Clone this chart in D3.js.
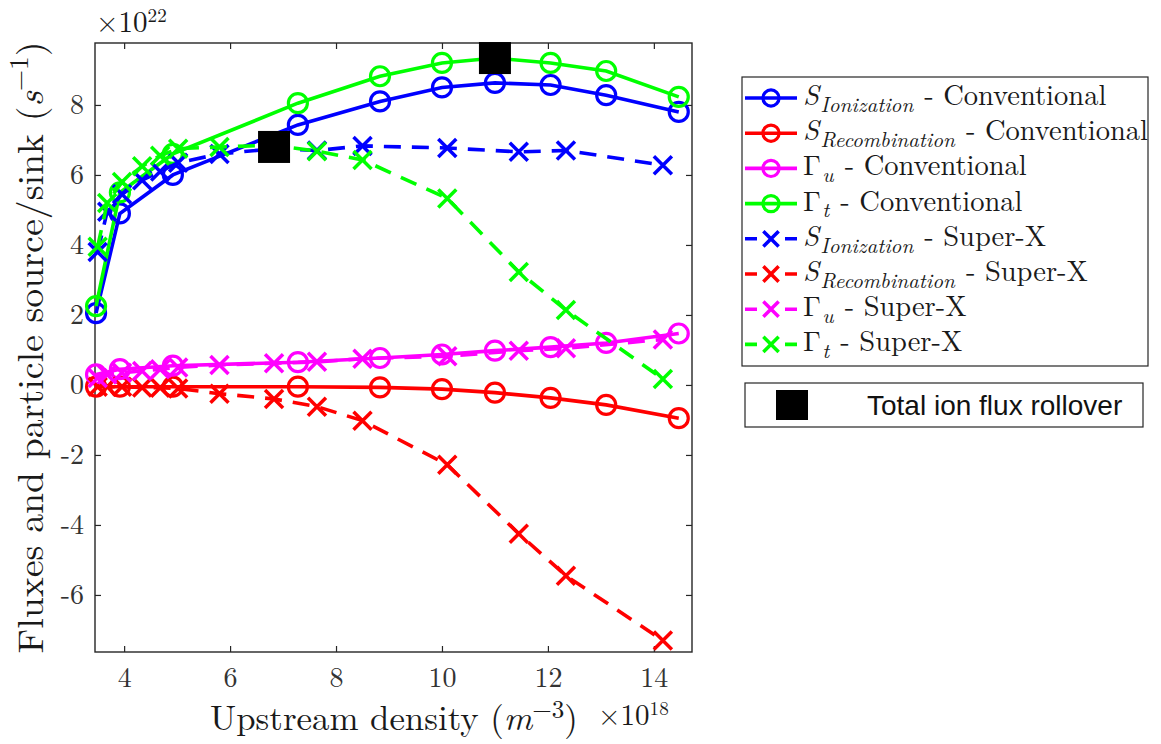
<!DOCTYPE html>
<html><head><meta charset="utf-8">
<script src="https://cdn.jsdelivr.net/npm/d3@7"></script>
<style>body{margin:0;background:#fff} text{white-space:pre}</style>
</head><body><svg id="c" width="1161" height="744"></svg>
<script>
// ---- data (units: x in 1e18 m^-3, y in 1e22 s^-1) ----
const convX   = [3.47, 3.92, 4.92, 7.28, 8.83, 10.0, 11.0, 12.05, 13.1, 14.47];
const convIon = [2.05, 4.9, 6.0, 7.43, 8.1, 8.5, 8.63, 8.57, 8.28, 7.8];
const convRec = [-0.05, -0.05, -0.05, -0.05, -0.07, -0.12, -0.22, -0.37, -0.57, -0.95];
const convGu  = [0.3, 0.45, 0.55, 0.65, 0.77, 0.87, 0.98, 1.08, 1.2, 1.47];
const convGt  = [2.25, 5.5, 6.6, 8.05, 8.82, 9.2, 9.34, 9.2, 8.97, 8.23];

const sxX   = [3.5, 3.68, 3.96, 4.34, 4.68, 5.02, 5.8, 6.83, 7.64, 8.5, 10.1, 11.45, 12.34, 14.17];
const sxIon = [3.8, 4.95, 5.45, 5.85, 6.1, 6.35, 6.6, 6.75, 6.7, 6.83, 6.77, 6.66, 6.7, 6.28];
const sxRec = [-0.05, -0.05, -0.05, -0.07, -0.08, -0.1, -0.25, -0.4, -0.62, -1.02, -2.28, -4.25, -5.45, -7.3];
const sxGu  = [0.2, 0.3, 0.35, 0.4, 0.45, 0.5, 0.57, 0.62, 0.66, 0.75, 0.82, 0.98, 1.05, 1.3];
const sxGt  = [3.95, 5.2, 5.8, 6.25, 6.55, 6.75, 6.8, 6.85, 6.68, 6.43, 5.33, 3.23, 2.14, 0.17];

const rollX = [6.83, 11.0];
const rollY = [6.8, 9.34];

const xTicks = [4, 6, 8, 10, 12, 14];
const yTicks = [-6, -4, -2, 0, 2, 4, 6, 8];

const colors = {ion:"#0000ff", rec:"#ff0000", gu:"#ff00ff", gt:"#00ff00"};

const series = [
  {xs:convX, ys:convIon, c:colors.ion, m:"o", dash:false, lab:[{t:"S",it:1},{t:"Ionization",it:1,sub:1},{t:" - Conventional"}]},
  {xs:convX, ys:convRec, c:colors.rec, m:"o", dash:false, lab:[{t:"S",it:1},{t:"Recombination",it:1,sub:1},{t:" - Conventional"}]},
  {xs:convX, ys:convGu,  c:colors.gu,  m:"o", dash:false, lab:[{t:"Γ"},{t:"u",it:1,sub:1},{t:" - Conventional"}]},
  {xs:convX, ys:convGt,  c:colors.gt,  m:"o", dash:false, lab:[{t:"Γ"},{t:"t",it:1,sub:1},{t:" - Conventional"}]},
  {xs:sxX, ys:sxIon, c:colors.ion, m:"x", dash:true, lab:[{t:"S",it:1},{t:"Ionization",it:1,sub:1},{t:" - Super-X"}]},
  {xs:sxX, ys:sxRec, c:colors.rec, m:"x", dash:true, lab:[{t:"S",it:1},{t:"Recombination",it:1,sub:1},{t:" - Super-X"}]},
  {xs:sxX, ys:sxGu,  c:colors.gu,  m:"x", dash:true, lab:[{t:"Γ"},{t:"u",it:1,sub:1},{t:" - Super-X"}]},
  {xs:sxX, ys:sxGt,  c:colors.gt,  m:"x", dash:true, lab:[{t:"Γ"},{t:"t",it:1,sub:1},{t:" - Super-X"}]},
];

const SERIF = "'Latin Modern Roman','Liberation Serif',serif";
const SANS = "'Liberation Sans',Arial,sans-serif";
const AX = "#262626";

const svg = d3.select("#c");
const L = 95, R = 692, T = 43, B = 652;
const x = d3.scaleLinear().domain([3.45, 14.72]).range([L, R]);
const y = d3.scaleLinear().domain([-7.63, 9.77]).range([B, T]);

function rich(g, parts, fs, family, subScale, supShift) {
  const ss = subScale || 0.72;
  const up = supShift || 0.42;
  const t = g.append("text").attr("font-family", family).attr("font-size", fs).attr("fill", "#1a1a1a");
  let shift = 0;
  parts.forEach(p => {
    const target = p.sub ? 0.3 * fs : p.sup ? -up * fs : 0;
    const ts = t.append("tspan").text(p.t).attr("dy", target - shift);
    shift = target;
    if (p.sub || p.sup) ts.attr("font-size", fs * ss);
    if (p.it) ts.attr("font-style", "italic");
  });
  return t;
}
// separate text pieces laid out side by side (for legend entries)
function pieces(g, parts, fs, family, ss) {
  let cx = 0;
  parts.forEach(p => {
    const t = g.append("text").attr("x", cx).attr("y", p.sub ? 0.24 * fs : 0)
      .attr("font-family", family).attr("font-size", p.sub ? fs * ss : fs)
      .attr("fill", "#1a1a1a").text(p.t);
    if (p.it) t.attr("font-style", "italic");
    cx += t.node().getComputedTextLength() + 1.5;
  });
}

// axes
const gx = svg.append("g").attr("transform", `translate(0,${B})`)
  .call(d3.axisBottom(x).tickValues(xTicks).tickSizeInner(-6).tickSizeOuter(0).tickPadding(15).tickFormat(d3.format("d")));
const gxt = svg.append("g").attr("transform", `translate(0,${T})`)
  .call(d3.axisTop(x).tickValues(xTicks).tickSizeInner(-6).tickSizeOuter(0).tickFormat(""));
const gy = svg.append("g").attr("transform", `translate(${L},0)`)
  .call(d3.axisLeft(y).tickValues(yTicks).tickSizeInner(-6).tickSizeOuter(0).tickPadding(11).tickFormat(d3.format("d")));
const gyr = svg.append("g").attr("transform", `translate(${R},0)`)
  .call(d3.axisRight(y).tickValues(yTicks).tickSizeInner(-6).tickSizeOuter(0).tickFormat(""));
[gx, gxt, gy, gyr].forEach(g => {
  g.select(".domain").remove();
  g.selectAll("line").attr("stroke", AX).attr("stroke-width", 1.2);
  g.selectAll("text").attr("font-family", SERIF).attr("font-size", 28).attr("fill", "#333");
});
gy.selectAll("text").text(d => d < 0 ? "-" + Math.abs(d) : d);
svg.append("rect").attr("x", L).attr("y", T).attr("width", R - L).attr("height", B - T)
  .attr("fill", "none").attr("stroke", AX).attr("stroke-width", 1.4);

// series
const plot = svg.append("g");
const line = d3.line().x(d => x(d[0])).y(d => y(d[1]));
function marker(g, type, c, s) {
  if (type === "o") {
    g.append("circle").attr("r", 9.5 * s).attr("fill", "none").attr("stroke", c).attr("stroke-width", 3.2);
  } else {
    const a = 9 * s;
    g.append("path").attr("d", `M${-a},${-a}L${a},${a}M${-a},${a}L${a},${-a}`)
      .attr("stroke", c).attr("stroke-width", 3.5).attr("fill", "none");
  }
}
series.forEach(sr => {
  const pts = sr.xs.map((v, i) => [v, sr.ys[i]]);
  const g = plot.append("g");
  g.append("path").datum(pts).attr("d", line).attr("fill", "none").attr("stroke", sr.c)
    .attr("stroke-width", 3.6).attr("stroke-dasharray", sr.dash ? "17,11" : null);
  pts.forEach(p => {
    const mg = g.append("g").attr("transform", `translate(${x(p[0])},${y(p[1])})`);
    marker(mg, sr.m, sr.c, 1);
  });
});
// rollover squares
const sq = 32;
plot.selectAll("rect.roll").data(rollX.map((v, i) => [v, rollY[i]])).join("rect")
  .attr("x", d => x(d[0]) - sq / 2).attr("y", d => y(d[1]) - sq / 2)
  .attr("width", sq).attr("height", sq).attr("fill", "#000");

// axis labels
const yl = svg.append("g").attr("transform", "translate(43,347.5) rotate(-90)");
const ylt = rich(yl, [{t:"Fluxes and particle source/sink ("},{t:"s",it:1},{t:"−1",sup:1},{t:")"}], 36, SERIF)
  .attr("text-anchor", "middle");
ylt.attr("transform", `scale(${612 / ylt.node().getComputedTextLength()},1)`);

const xl = svg.append("g").attr("transform", "translate(394,730)");
const xlt = rich(xl, [{t:"Upstream density ("},{t:"m",it:1},{t:"−3",sup:1},{t:")"}], 35, SERIF, 0.72, 0.34)
  .attr("text-anchor", "middle");
xlt.attr("transform", `scale(${368 / xlt.node().getComputedTextLength()},1)`);

const e18 = svg.append("g").attr("transform", "translate(598,725)");
rich(e18, [{t:"×10"},{t:"18",sup:1}], 29, SERIF, 0.66, 0.36);
const e22 = svg.append("g").attr("transform", "translate(96,32)");
rich(e22, [{t:"×10"},{t:"22",sup:1}], 29, SERIF, 0.66, 0.36);

// legend
const lg = svg.append("g");
lg.append("rect").attr("x", 742).attr("y", 77).attr("width", 406).attr("height", 289)
  .attr("fill", "#fff").attr("stroke", AX).attr("stroke-width", 1.2);
series.forEach((sr, i) => {
  const base = 105 + i * 35.2;
  const ly = base - 7;
  const row = lg.append("g");
  row.append("line").attr("x1", 745).attr("x2", 797).attr("y1", ly).attr("y2", ly)
    .attr("stroke", sr.c).attr("stroke-width", 3.6).attr("stroke-dasharray", sr.dash ? "12,28" : null);
  const mg = row.append("g").attr("transform", `translate(771,${ly})`);
  marker(mg, sr.m, sr.c, 0.85);
  const tg = row.append("g").attr("transform", `translate(803,${base})`);
  pieces(tg, sr.lab, 28.5, SERIF, 0.74);
});
lg.append("rect").attr("x", 745).attr("y", 383).attr("width", 398).attr("height", 44)
  .attr("fill", "#fff").attr("stroke", AX).attr("stroke-width", 1.2);
lg.append("rect").attr("x", 776).attr("y", 390).attr("width", 32).attr("height", 30).attr("fill", "#000");
lg.append("text").attr("x", 867).attr("y", 415).attr("font-family", SANS).attr("font-size", 28)
  .attr("fill", "#111").text("Total ion flux rollover");
</script>
</body></html>
